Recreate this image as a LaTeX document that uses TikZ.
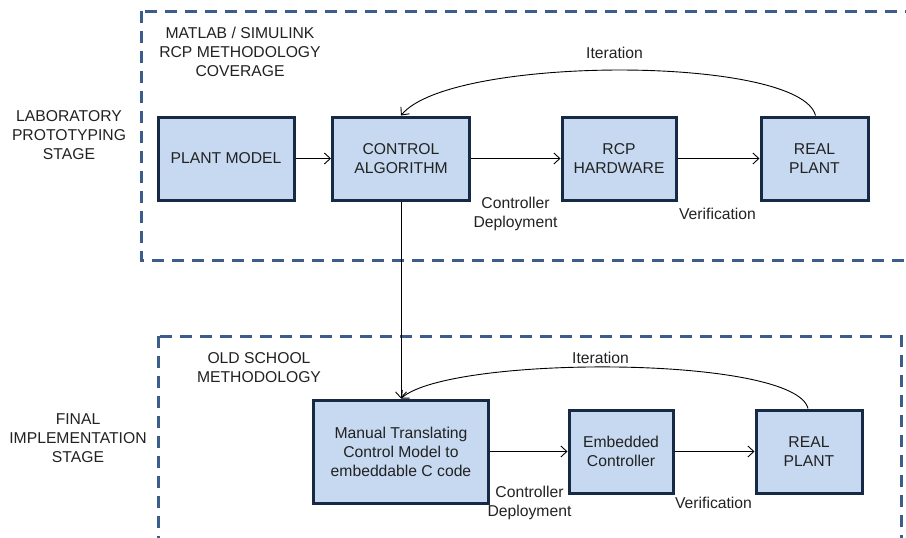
\documentclass[tikz,border=0pt]{standalone}
\usepackage{fontspec}
\setmainfont{Liberation Sans}
\usetikzlibrary{arrows.meta}
\definecolor{dashblue}{RGB}{60,92,140}
\definecolor{boxfill}{RGB}{198,217,240}
\definecolor{boxline}{RGB}{22,42,70}
\definecolor{txt}{RGB}{34,34,34}
\tikzset{
  blk/.style={draw=boxline, line width=3pt, fill=boxfill, align=center, inner sep=0pt, minimum height=83pt},
  frame/.style={draw=dashblue, line width=3pt, dash pattern=on 12pt off 8pt},
  lbl/.style={align=center, inner sep=0pt, text=txt},
  conn/.style={draw=black, line width=0.9pt, -{Straight Barb[length=6pt,width=11pt,line width=0.9pt]}},
}
\begin{document}
\begin{tikzpicture}[x=1pt,y=-1pt, font=\fontsize{15.7}{19}\selectfont, text=txt]
\useasboundingbox (0,0) rectangle (906,538);
\clip (0,0) rectangle (906,538);
\fill[white] (0,0) rectangle (906,538);
% frames
\draw[frame] (141,11) rectangle (930,260);
\draw[frame] (158,336) rectangle (901,560);
% blocks top
\node[blk, minimum width=136pt] (pm) at (226,158.5) {PLANT MODEL};
\node[blk, minimum width=137pt] (ca) at (401,158.5) {CONTROL\\ALGORITHM};
\node[blk, minimum width=114pt] (rcp) at (619,158.5) {RCP\\HARDWARE};
\node[blk, minimum width=107pt] (rp1) at (814.5,158.5) {REAL\\PLANT};
% blocks bottom
\node[blk, minimum width=175pt, minimum height=103pt] (mt) at (401,451.5) {Manual Translating\\Control Model to\\embeddable C code};
\node[blk, minimum width=104pt] (ec) at (621,451.5) {Embedded\\Controller};
\node[blk, minimum width=106pt] (rp2) at (809,451.5) {REAL\\PLANT};
% labels
\node[lbl] (t1) at (240,51.5) {MATLAB / SIMULINK\\RCP METHODOLOGY\\COVERAGE};
\node[lbl] (t2) at (69,135) {LABORATORY\\PROTOTYPING\\STAGE};
\node[lbl] (t3) at (78,438.5) {FINAL\\IMPLEMENTATION\\STAGE};
\node[lbl] (t4) at (259,367.5) {OLD SCHOOL\\METHODOLOGY};
\node[lbl] (it1) at (614.5,53) {Iteration};
\node[lbl] (it2) at (600.5,358) {Iteration};
\node[lbl] (cd1) at (515.5,213.5) {Controller\\Deployment};
\node[lbl] (cd2) at (529.5,502.5) {Controller\\Deployment};
\node[lbl] (v1) at (717.5,214) {Verification};
\node[lbl] (v2) at (713.5,503) {Verification};
% connectors
\draw[conn] (pm.east) -- (ca.west);
\draw[conn] (ca.east) -- (rcp.west);
\draw[conn] (rcp.east) -- (rp1.west);
\draw[conn] (mt.east) -- (ec.west);
\draw[conn] (ec.east) -- (rp2.west);
\draw[conn] (ca.south) -- (mt.north);
\draw[conn] ([xshift=1pt]rp1.north) .. controls (800,55) and (450,55) .. (ca.north);
\draw[conn] ([xshift=-1pt]rp2.north) .. controls (795,355) and (450,355) .. (mt.north);
\end{tikzpicture}
\end{document}
